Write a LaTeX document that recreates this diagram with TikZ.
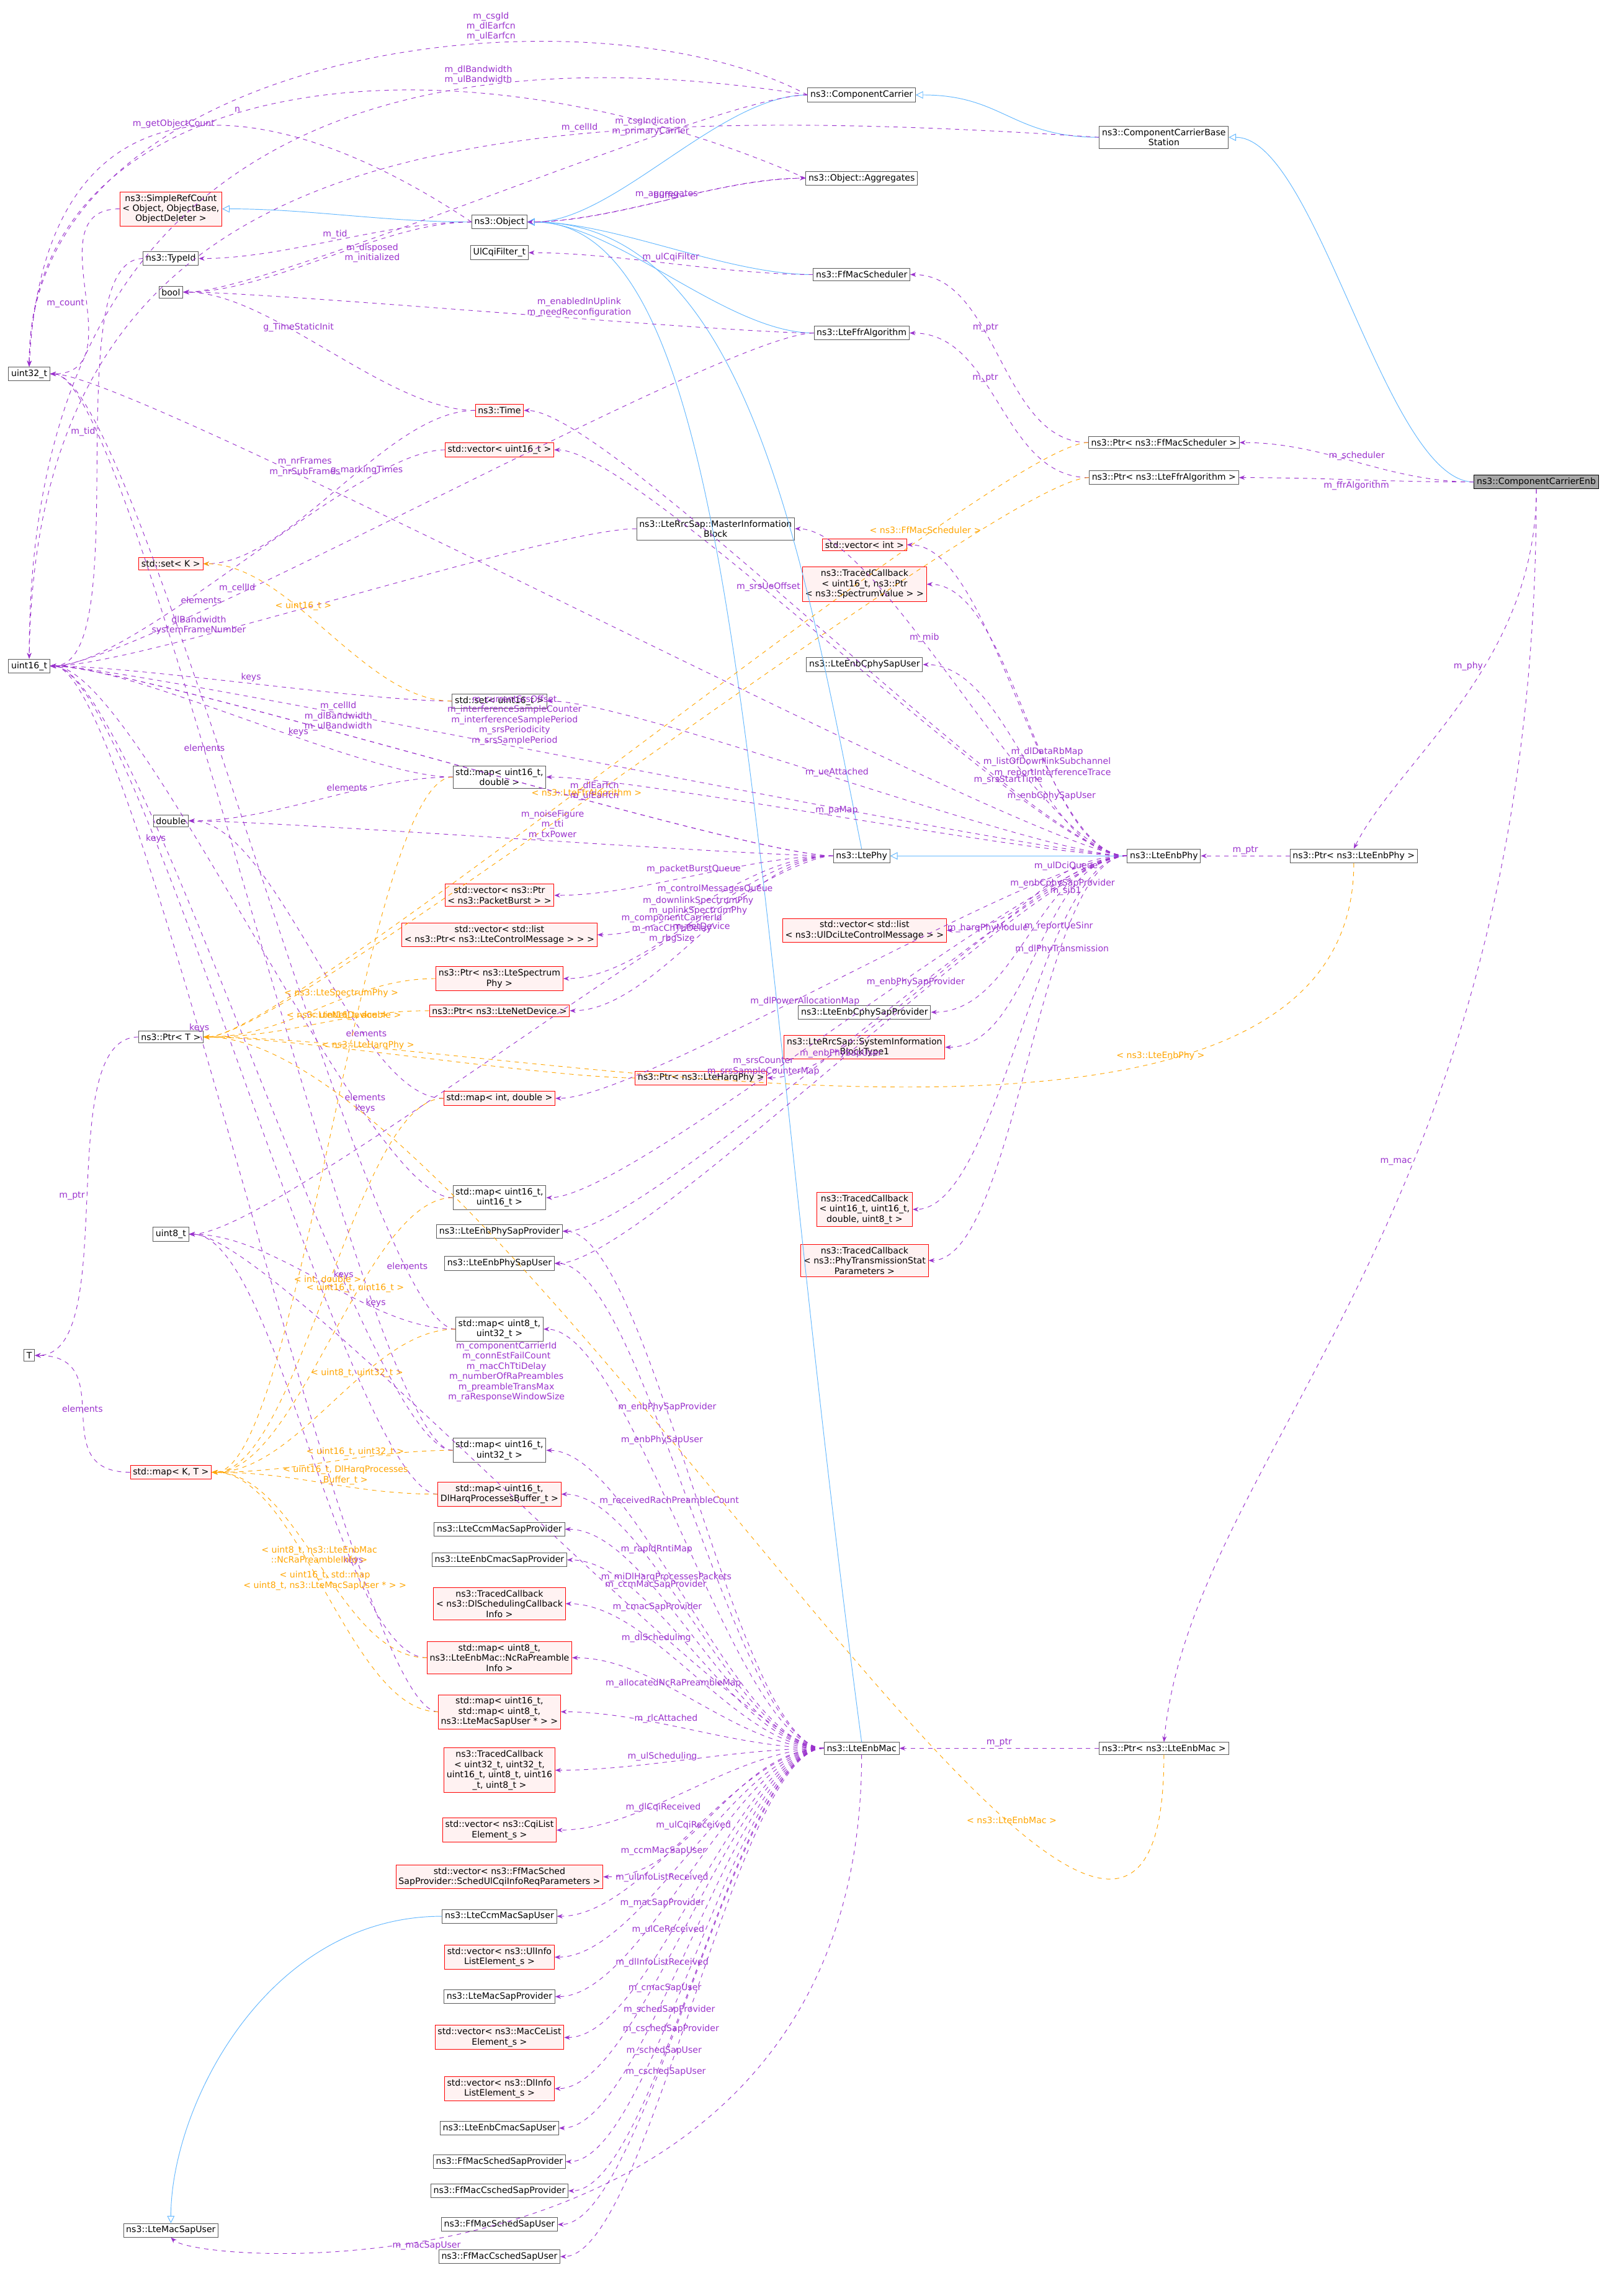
\documentclass[tikz,border=0pt]{standalone}
\usepackage{fontspec}
\setmainfont{DejaVu Sans}
\usetikzlibrary{arrows.meta}
\definecolor{mempurple}{HTML}{9A32CD}
\definecolor{inhblue}{HTML}{63B8FF}
\definecolor{tplorange}{HTML}{FFA500}
\tikzset{
  cls/.style={draw=gray!70!black, fill=white, inner sep=1.8pt, align=center, font=\fontsize{6}{7}\selectfont},
  undoc/.style={cls, draw=red, fill=red!5},
  focus/.style={cls, fill=gray!70, draw=black},
  memberedge/.style={mempurple, dashed, thin, -{Stealth[length=4pt]}},
  tpledge/.style={tplorange, dashed, thin, -{Stealth[length=4pt]}},
  inhedge/.style={inhblue, thin, -{Triangle[open,length=5pt,width=5pt]}},
  lbl/.style={font=\fontsize{6}{7}\selectfont, align=center, midway, above, inner sep=1pt}
}
\newcommand{\mem}[4][]{\draw[memberedge] (#2.west) .. controls +(-60,0) and +(60,0) .. node[lbl,#1]{#4} (#3.east);}
\newcommand{\tpl}[4][]{\draw[tpledge] (#2.west) .. controls +(-60,0) and +(60,0) .. node[lbl,#1]{#4} (#3.east);}
\newcommand{\inh}[2]{\draw[inhedge] (#1.west) .. controls +(-60,0) and +(60,0) .. (#2.east);}
\begin{document}
\begin{tikzpicture}[x=1pt,y=-1pt]
    \useasboundingbox[fill=white] (0,0) rectangle (1100,1572);

    % right column
    \node[focus] (ccenb) at (1052,330) {ns3::ComponentCarrierEnb};
    \node[cls] (ccbase) at (797,94) {ns3::ComponentCarrierBase\\Station};
    \node[cls] (cc) at (590,65) {ns3::ComponentCarrier};
    \node[cls] (aggr) at (590,122) {ns3::Object::Aggregates};
    \node[cls] (fsched) at (590,188) {ns3::FfMacScheduler};
    \node[cls] (ffr) at (590,228) {ns3::LteFfrAlgorithm};
    \node[cls] (pfsched) at (797,303) {ns3::Ptr< ns3::FfMacScheduler >};
    \node[cls] (pffr) at (797,327) {ns3::Ptr< ns3::LteFfrAlgorithm >};
    \node[cls] (enbphy) at (797,586) {ns3::LteEnbPhy};
    \node[cls] (penbphy) at (927,586) {ns3::Ptr< ns3::LteEnbPhy >};
    \node[cls] (enbmac) at (590,1197) {ns3::LteEnbMac};
    \node[cls] (penbmac) at (797,1197) {ns3::Ptr< ns3::LteEnbMac >};
    \node[cls] (ltephy) at (590,586) {ns3::LtePhy};

    % second column
    \node[undoc] (vint) at (592,373) {std::vector< int >};
    \node[undoc] (tcinterf) at (592,400) {ns3::TracedCallback\\< uint16\_t, ns3::Ptr\\< ns3::SpectrumValue > >};
    \node[cls] (cphyuser) at (592,455) {ns3::LteEnbCphySapUser};
    \node[undoc] (vuldci) at (592,637) {std::vector< std::list\\< ns3::UlDciLteControlMessage > >};
    \node[cls] (cphyprov) at (592,693) {ns3::LteEnbCphySapProvider};
    \node[undoc] (sib1) at (592,717) {ns3::LteRrcSap::SystemInformation\\BlockType1};
    \node[undoc] (tcsinr) at (592,828) {ns3::TracedCallback\\< uint16\_t, uint16\_t,\\double, uint8\_t >};
    \node[undoc] (tcphytx) at (592,863) {ns3::TracedCallback\\< ns3::PhyTransmissionStat\\Parameters >};
    \node[cls] (mib) at (490,362) {ns3::LteRrcSap::MasterInformation\\Block};
    \node[undoc] (pharq) at (480,738) {ns3::Ptr< ns3::LteHarqPhy >};

    % middle column
    \node[cls] (obj) at (342,152) {ns3::Object};
    \node[cls] (ulcqi) at (342,173) {UlCqiFilter\_t};
    \node[undoc] (time) at (342,281) {ns3::Time};
    \node[undoc] (vu16) at (342,308) {std::vector< uint16\_t >};
    \node[cls] (setu16) at (342,480) {std::set< uint16\_t >};
    \node[cls] (mapu16d) at (342,532) {std::map< uint16\_t,\\double >};
    \node[undoc] (vburst) at (342,613) {std::vector< ns3::Ptr\\< ns3::PacketBurst > >};
    \node[undoc] (vctrl) at (342,640) {std::vector< std::list\\< ns3::Ptr< ns3::LteControlMessage > > >};
    \node[undoc] (pspec) at (342,670) {ns3::Ptr< ns3::LteSpectrum\\Phy >};
    \node[undoc] (pnetdev) at (342,692) {ns3::Ptr< ns3::LteNetDevice >};
    \node[undoc] (mapintd) at (342,752) {std::map< int, double >};
    \node[cls] (mapu16u16) at (342,820) {std::map< uint16\_t,\\uint16\_t >};
    \node[cls] (phyprov) at (342,843) {ns3::LteEnbPhySapProvider};
    \node[cls] (phyuser) at (342,865) {ns3::LteEnbPhySapUser};
    \node[cls] (mapu8u32) at (342,910) {std::map< uint8\_t,\\uint32\_t >};
    \node[cls] (mapu16u32) at (342,993) {std::map< uint16\_t,\\uint32\_t >};
    \node[undoc] (mapharq) at (342,1023) {std::map< uint16\_t,\\DlHarqProcessesBuffer\_t >};
    \node[cls] (ccmprov) at (342,1047) {ns3::LteCcmMacSapProvider};
    \node[cls] (cmacprov) at (342,1068) {ns3::LteEnbCmacSapProvider};
    \node[undoc] (tcdlsched) at (342,1098) {ns3::TracedCallback\\< ns3::DlSchedulingCallback\\Info >};
    \node[undoc] (mapncra) at (342,1135) {std::map< uint8\_t,\\ns3::LteEnbMac::NcRaPreamble\\Info >};
    \node[undoc] (maprlc) at (342,1172) {std::map< uint16\_t,\\std::map< uint8\_t,\\ns3::LteMacSapUser * > >};
    \node[undoc] (tculsched) at (342,1212) {ns3::TracedCallback\\< uint32\_t, uint32\_t,\\uint16\_t, uint8\_t, uint16\\\_t, uint8\_t >};
    \node[undoc] (vcqi) at (342,1253) {std::vector< ns3::CqiList\\Element\_s >};
    \node[undoc] (vulcqi) at (342,1285) {std::vector< ns3::FfMacSched\\SapProvider::SchedUlCqiInfoReqParameters >};
    \node[cls] (ccmuser) at (342,1312) {ns3::LteCcmMacSapUser};
    \node[undoc] (vulinfo) at (342,1340) {std::vector< ns3::UlInfo\\ListElement\_s >};
    \node[cls] (macprov) at (342,1367) {ns3::LteMacSapProvider};
    \node[undoc] (vmacce) at (342,1395) {std::vector< ns3::MacCeList\\Element\_s >};
    \node[undoc] (vdlinfo) at (342,1430) {std::vector< ns3::DlInfo\\ListElement\_s >};
    \node[cls] (cmacuser) at (342,1457) {ns3::LteEnbCmacSapUser};
    \node[cls] (schedprov) at (342,1480) {ns3::FfMacSchedSapProvider};
    \node[cls] (cschedprov) at (342,1500) {ns3::FfMacCschedSapProvider};
    \node[cls] (scheduser) at (342,1523) {ns3::FfMacSchedSapUser};
    \node[cls] (cscheduser) at (342,1545) {ns3::FfMacCschedSapUser};

    % left columns
    \node[undoc] (refcount) at (117,143) {ns3::SimpleRefCount\\< Object, ObjectBase,\\ObjectDeleter >};
    \node[cls] (typeid) at (117,177) {ns3::TypeId};
    \node[cls] (bool) at (117,200) {bool};
    \node[undoc] (setk) at (117,386) {std::set< K >};
    \node[cls] (double) at (117,562) {double};
    \node[cls] (ptrt) at (117,710) {ns3::Ptr< T >};
    \node[cls] (uint8) at (117,845) {uint8\_t};
    \node[undoc] (mapkt) at (117,1008) {std::map< K, T >};
    \node[cls] (macuser) at (117,1527) {ns3::LteMacSapUser};
    \node[cls] (uint32) at (20,256) {uint32\_t};
    \node[cls] (uint16) at (20,456) {uint16\_t};
    \node[cls] (tt) at (20,928) {T};

    % inheritance
    \inh{ccenb}{ccbase}
    \inh{ccbase}{cc}
    \inh{cc}{obj}
    \inh{obj}{refcount}
    \inh{fsched}{obj}
    \inh{ffr}{obj}
    \inh{enbphy}{ltephy}
    \draw[inhedge] (ltephy.north) .. controls +(-40,-200) and +(150,0) .. (obj.east);
    \draw[inhedge] (enbmac.north) .. controls +(-80,-600) and +(150,0) .. (obj.east);
    \draw[inhedge] (ccmuser.west) .. controls +(-120,0) and +(0,-80) .. (macuser.north);

    % members of the base classes
    \draw[memberedge] (cc.west) .. controls +(-150,-80) and +(0,-220) .. node[lbl,pos=0.35]{m\_csgId\\m\_dlEarfcn\\m\_ulEarfcn} (uint32.north);
    \draw[memberedge] (cc.west) .. controls +(-250,-40) and +(0,-380) .. node[lbl,pos=0.3]{m\_dlBandwidth\\m\_ulBandwidth} (uint16.north);
    \draw[memberedge] (ccbase.west) .. controls +(-450,-30) and +(5,-350) .. node[lbl,pos=0.3]{m\_cellId} (uint16.north);
    \draw[memberedge] (aggr.west) .. controls +(-250,-110) and +(0,-200) .. node[lbl,pos=0.55]{n} (uint32.north);
    \draw[memberedge] (obj.west) .. controls +(-150,-100) and +(10,-200) .. node[lbl,pos=0.5]{m\_getObjectCount} (uint32.north);
    \mem[pos=0.3]{cc}{bool}{m\_csgIndication\\m\_primaryCarrier}
    \mem{aggr}{obj}{buffer}
    \draw[memberedge] (obj.east) .. controls +(60,0) and +(-60,0) .. node[lbl]{m\_aggregates} (aggr.west);
    \mem{obj}{typeid}{m\_tid}
    \mem[pos=0.35,below]{obj}{bool}{m\_disposed\\m\_initialized}
    \mem[pos=0.55,left]{refcount}{uint32}{m\_count}
    \mem[pos=0.45,left]{typeid}{uint16}{m\_tid}
    \mem{fsched}{ulcqi}{m\_ulCqiFilter}
    \mem[pos=0.4]{ffr}{bool}{m\_enabledInUplink\\m\_needReconfiguration}
    \mem[pos=0.7]{ffr}{uint16}{m\_cellId}
    \mem[pos=0.6]{time}{bool}{g\_TimeStaticInit}
    \mem[pos=0.4,below]{time}{setk}{g\_markingTimes}
    \mem[pos=0.65,above right]{vu16}{uint16}{elements}
    \mem[pos=0.7]{mib}{uint16}{dlBandwidth\\systemFrameNumber}
    \mem{setu16}{uint16}{keys}
    \mem[pos=0.4]{mapu16d}{uint16}{keys}
    \mem[pos=0.4]{mapu16d}{double}{elements}
    \mem[pos=0.3]{mapintd}{double}{elements}
    \mem[pos=0.25]{mapu16u16}{uint16}{elements\\keys}
    \mem[pos=0.3]{mapu8u32}{uint8}{keys}
    \mem[pos=0.15]{mapu8u32}{uint32}{elements}
    \mem[pos=0.3]{mapu16u32}{uint16}{keys}
    \mem[pos=0.6]{mapu16u32}{uint32}{elements}
    \mem[pos=0.7]{mapharq}{uint16}{keys}
    \mem[pos=0.3]{mapncra}{uint8}{keys}
    \mem[pos=0.6]{maprlc}{uint16}{keys}
    \mem{mapkt}{tt}{elements}
    \mem[pos=0.5,left]{ptrt}{tt}{m\_ptr}

    % pointers and templates
    \mem[pos=0.6]{pfsched}{fsched}{m\_ptr}
    \mem[pos=0.6]{pffr}{ffr}{m\_ptr}
    \mem{penbphy}{enbphy}{m\_ptr}
    \mem{penbmac}{enbmac}{m\_ptr}
    \tpl[pos=0.25]{pfsched}{ptrt}{< ns3::FfMacScheduler >}
    \tpl[pos=0.55]{pffr}{ptrt}{< ns3::LteFfrAlgorithm >}
    \draw[tpledge] (penbphy.south) .. controls +(0,250) and +(200,0) .. node[lbl,pos=0.3]{< ns3::LteEnbPhy >} (ptrt.east);
    \draw[tpledge] (penbmac.south) .. controls +(0,350) and +(200,0) .. node[lbl,pos=0.3]{< ns3::LteEnbMac >} (ptrt.east);
    \tpl[pos=0.4]{pspec}{ptrt}{< ns3::LteSpectrumPhy >}
    \tpl[pos=0.4]{pnetdev}{ptrt}{< ns3::LteNetDevice >}
    \tpl[pos=0.6]{pharq}{ptrt}{< ns3::LteHarqPhy >}
    \tpl[pos=0.6]{setu16}{setk}{< uint16\_t >}
    \tpl[pos=0.4]{mapu16d}{mapkt}{< uint16\_t, double >}
    \tpl[pos=0.5]{mapintd}{mapkt}{< int, double >}
    \tpl[pos=0.4]{mapu16u16}{mapkt}{< uint16\_t, uint16\_t >}
    \tpl[pos=0.4]{mapu8u32}{mapkt}{< uint8\_t, uint32\_t >}
    \tpl[pos=0.4]{mapu16u32}{mapkt}{< uint16\_t, uint32\_t >}
    \tpl[pos=0.4]{mapharq}{mapkt}{< uint16\_t, DlHarqProcesses\\Buffer\_t >}
    \tpl[pos=0.5]{mapncra}{mapkt}{< uint8\_t, ns3::LteEnbMac\\::NcRaPreambleInfo >}
    \tpl[pos=0.5]{maprlc}{mapkt}{< uint16\_t, std::map\\< uint8\_t, ns3::LteMacSapUser * > >}

    % the focus class
    \mem{ccenb}{pfsched}{m\_scheduler}
    \mem[below]{ccenb}{pffr}{m\_ffrAlgorithm}
    \draw[memberedge] (ccenb.south) .. controls +(0,120) and +(30,-60) .. node[lbl,pos=0.4,left]{m\_phy} (penbphy.north);
    \draw[memberedge] (ccenb.south) .. controls +(0,500) and +(20,-200) .. node[lbl,pos=0.4,left]{m\_mac} (penbmac.north);

    % LtePhy
    \mem[pos=0.45]{ltephy}{double}{m\_noiseFigure\\m\_tti\\m\_txPower}
    \mem[pos=0.6]{ltephy}{uint16}{m\_cellId\\m\_dlBandwidth\\m\_ulBandwidth}
    \mem[pos=0.35]{ltephy}{uint16}{m\_dlEarfcn\\m\_ulEarfcn}
    \mem{ltephy}{vburst}{m\_packetBurstQueue}
    \mem{ltephy}{vctrl}{m\_controlMessagesQueue}
    \mem{ltephy}{pspec}{m\_downlinkSpectrumPhy\\m\_uplinkSpectrumPhy}
    \mem{ltephy}{pnetdev}{m\_netDevice}
    \mem[pos=0.3,yshift=-5pt]{ltephy}{uint8}{m\_componentCarrierId\\m\_macChTtiDelay\\m\_rbgSize}

    % LteEnbPhy
    \mem[pos=0.7]{enbphy}{uint32}{m\_nrFrames\\m\_nrSubFrames}
    \mem[pos=0.25]{enbphy}{time}{m\_srsStartTime}
    \mem[pos=0.6]{enbphy}{vu16}{m\_srsUeOffset}
    \mem[pos=0.55]{enbphy}{uint16}{m\_currentSrsOffset\\m\_interferenceSampleCounter\\m\_interferenceSamplePeriod\\m\_srsPeriodicity\\m\_srsSamplePeriod}
    \mem[pos=0.35]{enbphy}{vint}{m\_dlDataRbMap\\m\_listOfDownlinkSubchannel}
    \mem[pos=0.35]{enbphy}{tcinterf}{m\_reportInterferenceTrace}
    \mem[pos=0.6]{enbphy}{mib}{m\_mib}
    \mem[pos=0.35]{enbphy}{cphyuser}{m\_enbCphySapUser}
    \mem[pos=0.5]{enbphy}{setu16}{m\_ueAttached}
    \mem[pos=0.5]{enbphy}{mapu16d}{m\_paMap}
    \mem[pos=0.55,below]{enbphy}{mapintd}{m\_dlPowerAllocationMap}
    \mem[pos=0.3]{enbphy}{vuldci}{m\_ulDciQueue}
    \mem[pos=0.6]{enbphy}{mapu16u16}{m\_srsCounter\\m\_srsSampleCounterMap}
    \mem[pos=0.3]{enbphy}{cphyprov}{m\_enbCphySapProvider}
    \mem[pos=0.3]{enbphy}{sib1}{m\_sib1}
    \mem[pos=0.4]{enbphy}{pharq}{m\_harqPhyModule}
    \mem[pos=0.4]{enbphy}{phyprov}{m\_enbPhySapProvider}
    \mem[pos=0.5]{enbphy}{phyuser}{m\_enbPhySapUser}
    \mem[pos=0.3]{enbphy}{tcsinr}{m\_reportUeSinr}
    \mem[pos=0.3,below]{enbphy}{tcphytx}{m\_dlPhyTransmission}

    % LteEnbMac
    \mem[pos=0.6]{enbmac}{phyprov}{m\_enbPhySapProvider}
    \mem[pos=0.6,below]{enbmac}{phyuser}{m\_enbPhySapUser}
    \mem[pos=0.55]{enbmac}{mapu8u32}{m\_receivedRachPreambleCount}
    \mem[pos=0.5,yshift=60pt]{enbmac}{uint8}{m\_componentCarrierId\\m\_connEstFailCount\\m\_macChTtiDelay\\m\_numberOfRaPreambles\\m\_preambleTransMax\\m\_raResponseWindowSize}
    \mem[pos=0.6]{enbmac}{mapu16u32}{m\_rapIdRntiMap}
    \mem[pos=0.6]{enbmac}{mapharq}{m\_miDlHarqProcessesPackets}
    \mem[pos=0.65]{enbmac}{ccmprov}{m\_ccmMacSapProvider}
    \mem[pos=0.65]{enbmac}{cmacprov}{m\_cmacSapProvider}
    \mem[pos=0.65]{enbmac}{tcdlsched}{m\_dlScheduling}
    \mem[pos=0.6]{enbmac}{mapncra}{m\_allocatedNcRaPreambleMap}
    \mem[pos=0.6]{enbmac}{maprlc}{m\_rlcAttached}
    \mem[pos=0.6]{enbmac}{tculsched}{m\_ulScheduling}
    \mem[pos=0.6,below]{enbmac}{vcqi}{m\_dlCqiReceived}
    \mem[pos=0.6]{enbmac}{vulcqi}{m\_ulCqiReceived}
    \mem[pos=0.6]{enbmac}{ccmuser}{m\_ccmMacSapUser}
    \mem[pos=0.6]{enbmac}{vulinfo}{m\_ulInfoListReceived}
    \mem[pos=0.6]{enbmac}{macprov}{m\_macSapProvider}
    \mem[pos=0.6]{enbmac}{vmacce}{m\_ulCeReceived}
    \mem[pos=0.6]{enbmac}{vdlinfo}{m\_dlInfoListReceived}
    \mem[pos=0.6]{enbmac}{cmacuser}{m\_cmacSapUser}
    \mem[pos=0.6]{enbmac}{schedprov}{m\_schedSapProvider}
    \mem[pos=0.6]{enbmac}{cschedprov}{m\_cschedSapProvider}
    \mem[pos=0.6]{enbmac}{scheduser}{m\_schedSapUser}
    \mem[pos=0.6]{enbmac}{cscheduser}{m\_cschedSapUser}
    \draw[memberedge] (enbmac.south) .. controls +(0,380) and +(20,20) .. node[lbl,pos=0.6,below]{m\_macSapUser} (macuser.south);
\end{tikzpicture}
\end{document}
